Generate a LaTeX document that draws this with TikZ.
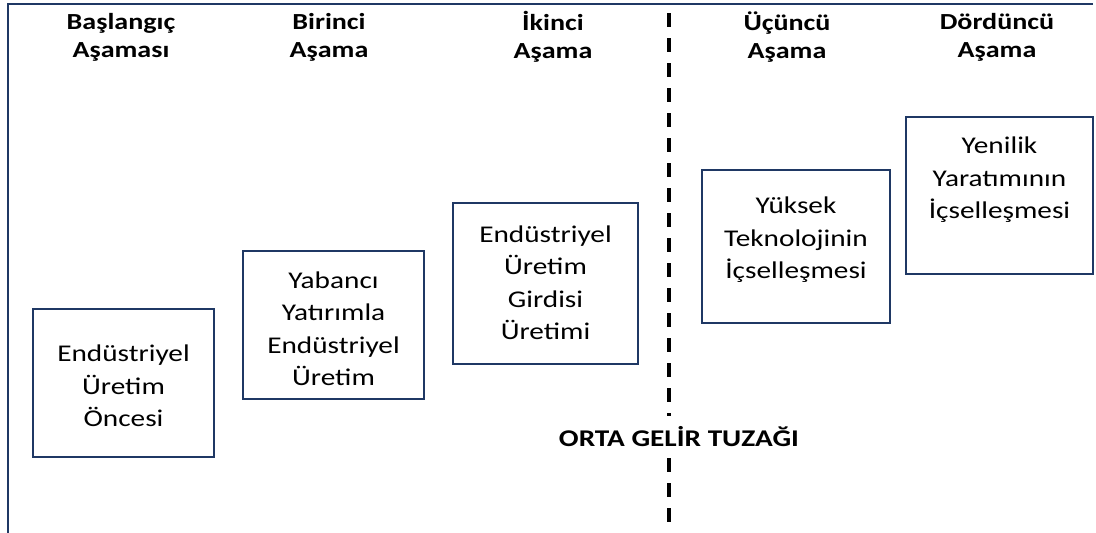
\documentclass[tikz,border=0pt]{standalone}
\usepackage{fontspec}
\setmainfont{Carlito}[FakeStretch=1.22]
\definecolor{navy}{RGB}{31,56,100}
\begin{document}
\begin{tikzpicture}[x=1pt,y=-1pt,
  stagebox/.style={draw=navy,line width=2pt,rectangle,inner sep=0pt,fill=none},
  boxtext/.style={align=center,inner sep=0pt,font=\fontsize{24}{32.5}\selectfont},
  header/.style={align=center,inner sep=0pt,font=\fontsize{23}{28}\selectfont\bfseries},
  axis/.style={draw=navy,line width=2.2pt},
  trap/.style={line width=4pt,dash pattern=on 14pt off 11pt}]
\useasboundingbox (0,0) rectangle (1096,533);
% axes
\coordinate (ab) at (8,533);
\coordinate (ac) at (8,4);
\coordinate (ar) at (1093,4);
\draw[axis] (ab) -- (ac) -- (ar);
% headers
\node[header] (h1) at (121,37) {Başlangıç\\Aşaması};
\node[header] (h2) at (329,37) {Birinci\\Aşama};
\node[header] (h3) at (553,37) {İkinci\\Aşama};
\node[header] (h4) at (787,37) {Üçüncü\\Aşama};
\node[header] (h5) at (997,37) {Dördüncü\\Aşama};
% boxes
\node[stagebox,minimum width=181pt,minimum height=148pt] (b1) at (123.5,383) {};
\node[stagebox,minimum width=181pt,minimum height=148pt] (b2) at (333.5,325) {};
\node[stagebox,minimum width=185pt,minimum height=161pt] (b3) at (545.5,283.5) {};
\node[stagebox,minimum width=188pt,minimum height=153pt] (b4) at (796,246.5) {};
\node[stagebox,minimum width=187pt,minimum height=157pt] (b5) at (999.5,195.5) {};
% box texts
\node[boxtext] (t1) at (123.5,386) {Endüstriyel\\Üretim\\Öncesi};
\node[boxtext] (t2) at (333.5,329) {Yabancı\\Yatırımla\\Endüstriyel\\Üretim};
\node[boxtext] (t3) at (545.5,283) {Endüstriyel\\Üretim\\Girdisi\\Üretimi};
\node[boxtext] (t4) at (796,240) {Yüksek\\Teknolojinin\\İçselleşmesi};
\node[boxtext] (t5) at (999.5,180) {Yenilik\\Yaratımının\\İçselleşmesi};
% middle income trap
\coordinate (dtop) at (669,13);
\coordinate (dmid1) at (669,416);
\coordinate (dmid2) at (669,458);
\coordinate (dbot) at (669,533);
\draw[trap] (dtop) -- (dmid1);
\draw[trap] (dmid2) -- (dbot);
\node[inner sep=0pt,font=\fontsize{24}{28}\selectfont\bfseries] (lbl) at (679,437) {ORTA GELİR TUZAĞI};
\end{tikzpicture}
\end{document}
